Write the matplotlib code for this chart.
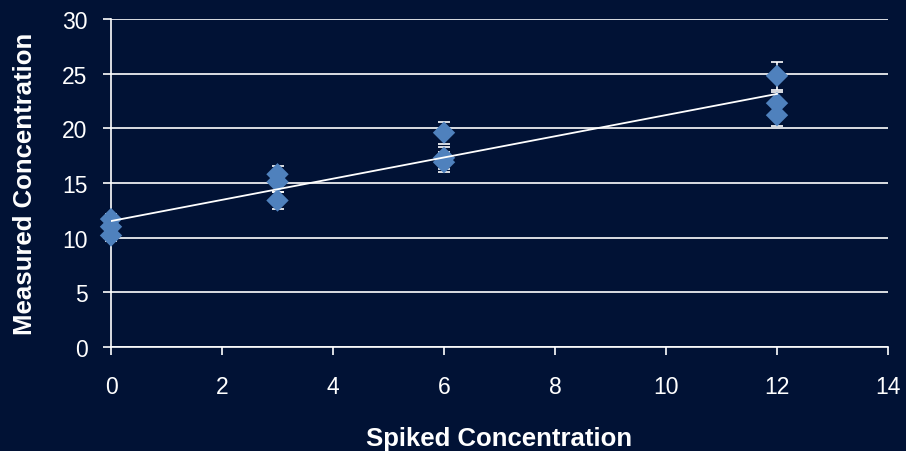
import numpy as np
import matplotlib.pyplot as plt

plt.rcParams['font.family'] = ['Liberation Sans', 'DejaVu Sans']

# spiked vs measured concentration, replicate measurements per level
spiked = [0, 0, 0, 3, 3, 3, 6, 6, 6, 12, 12, 12]
measured = [11.7, 11.0, 10.2, 15.8, 15.1, 13.4, 19.6, 17.3, 16.9, 24.8, 22.3, 21.2]
err = [0.5, 0.5, 0.5, 0.8, 0.9, 0.8, 1.0, 1.0, 0.9, 1.3, 1.0, 1.0]

bg = '#011235'
fg = 'white'
blue = '#4F81BD'

fig = plt.figure(figsize=(9.06, 4.52), dpi=100, facecolor=bg)
ax = fig.add_axes([111/906, 1 - 348/452, 777/906, 328/452], facecolor=bg)

ax.errorbar(spiked, measured, yerr=err, fmt='none', ecolor=fg, elinewidth=1.2,
            capsize=4.3, capthick=1.2, zorder=2, clip_on=False)
ax.scatter(spiked, measured, marker='D', s=130, color=blue, edgecolors='none',
           zorder=3, clip_on=False)

# least-squares trend line
m, b = np.polyfit(spiked, measured, 1)
xs = np.array([0, 12])
ax.plot(xs, m * xs + b, color=fg, lw=1.3, zorder=4)

ax.set_xlim(0, 14)
ax.set_ylim(0, 30)
ax.set_xticks(range(0, 15, 2))
ax.set_yticks(range(0, 31, 5))
ax.yaxis.grid(True, color=fg, lw=1.2)
ax.set_axisbelow(True)

for s in ['top', 'right']:
    ax.spines[s].set_visible(False)
for s in ['left', 'bottom']:
    ax.spines[s].set_color(fg)
    ax.spines[s].set_linewidth(1.2)

ax.tick_params(colors=fg, labelsize=16.5, length=6, width=1.2, direction='out')
ax.tick_params(axis='x', pad=14.5)
ax.tick_params(axis='y', pad=11)

ax.set_xlabel('Spiked Concentration', color=fg, fontsize=18.5, fontweight='bold', labelpad=20)
ax.set_ylabel('Measured Concentration', color=fg, fontsize=18.5, fontweight='bold', labelpad=18)

fig.savefig('out.png', dpi=100, facecolor=bg)
